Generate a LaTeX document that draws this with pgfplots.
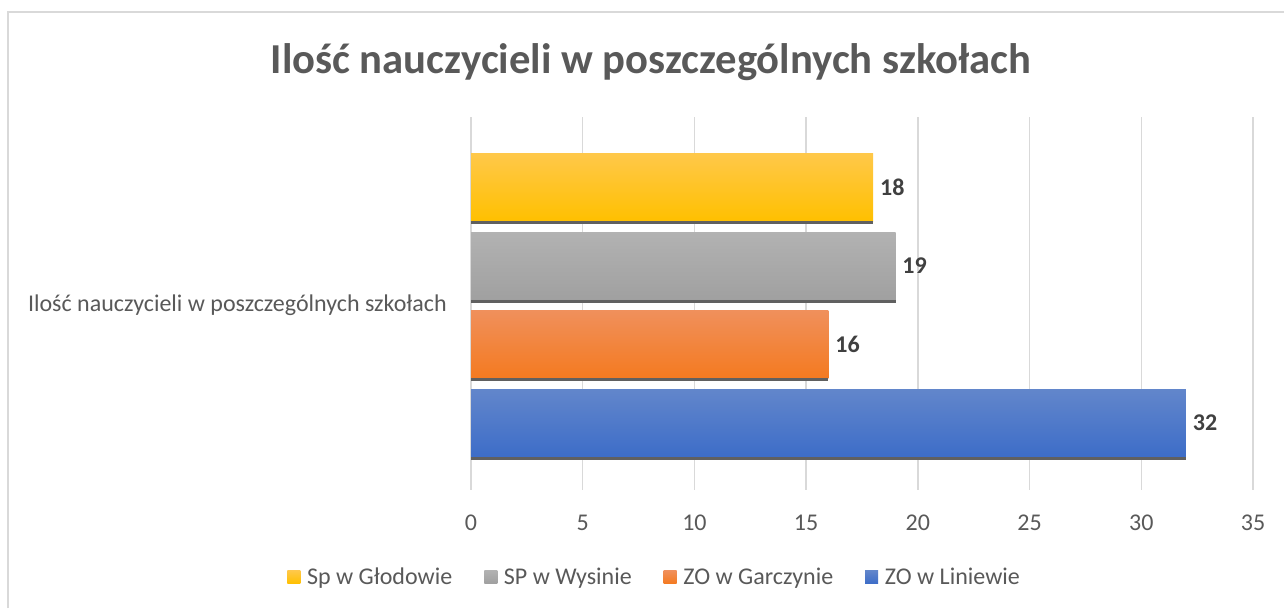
\documentclass[border=0pt]{standalone}
\usepackage{fontspec}
\setmainfont{Carlito}
\usepackage{pgfplots}
\pgfplotsset{compat=1.18}
\definecolor{gridc}{HTML}{D9D9D9}
\definecolor{txt}{HTML}{595959}
\definecolor{lab}{HTML}{404040}
\definecolor{yT}{HTML}{FFC84A}
\definecolor{yB}{HTML}{FFC000}
\definecolor{gT}{HTML}{B2B2B2}
\definecolor{gB}{HTML}{A0A0A0}
\definecolor{oT}{HTML}{F0905C}
\definecolor{oB}{HTML}{F47A20}
\definecolor{bT}{HTML}{6286CB}
\definecolor{bB}{HTML}{3D6DC8}
\definecolor{shadowc}{HTML}{606060}

\begin{document}
\begin{tikzpicture}[x=0.75pt,y=0.75pt]
\useasboundingbox (0,0) rectangle (1284,608);
\draw[gridc, line width=1.5pt] (8,0) -- (8,596) -- (1284,596);
\node[font=\bfseries\fontsize{32}{38}\selectfont, text=txt] at (651,546) {Ilość nauczycieli w poszczególnych szkołach};
\begin{axis}[
  at={(353.25pt,88.5pt)}, anchor=south west,
  scale only axis, width=586.5pt, height=279.75pt,
  xmin=0, xmax=35, ymin=0, ymax=373, y dir=reverse,
  xtick={0,5,...,35},
  ytick={188}, yticklabels={Ilość nauczycieli w poszczególnych szkołach},
  xmajorgrids, grid style={gridc, line width=1.1pt},
  axis line style={draw=none}, tick style={draw=none},
  /pgf/number format/assume math mode=true,
  xticklabel style={font=\fontsize{18}{22}\selectfont, text=txt, anchor=center, yshift=-24.75pt},
  yticklabel style={font=\fontsize{18}{22}\selectfont, text=txt, anchor=east, inner sep=0pt, xshift=-18pt},
  legend columns=4,
  legend style={draw=none, at={(0.2353,-0.2332)}, anchor=center,
    font=\fontsize{18}{22}\selectfont, text=txt,
    /tikz/every odd column/.append style={column sep=3pt},
    /tikz/every even column/.append style={column sep=22pt}},
  legend image code/.code={\path[#1, draw=none] (0pt,-4.9pt) rectangle (9.75pt,4.9pt);},
  every node near coord/.append style={font=\bfseries\fontsize{18}{22}\selectfont, text=lab, anchor=west, inner sep=0pt, xshift=5pt},
]
\addplot[xbar, bar width=68, bar shift=0pt, draw=none, top color=yT, bottom color=yB, nodes near coords] coordinates {(18,70)};
\addlegendentry{Sp w Głodowie}
\addplot[xbar, bar width=68, bar shift=0pt, draw=none, top color=gT, bottom color=gB, nodes near coords] coordinates {(19,149)};
\addlegendentry{SP w Wysinie}
\addplot[xbar, bar width=68, bar shift=0pt, draw=none, top color=oT, bottom color=oB, nodes near coords] coordinates {(16,227)};
\addlegendentry{ZO w Garczynie}
\addplot[xbar, bar width=68, bar shift=0pt, draw=none, top color=bT, bottom color=bB, nodes near coords] coordinates {(32,306)};
\addlegendentry{ZO w Liniewie}
\addplot[xbar, bar width=3, bar shift=0pt, draw=none, fill=shadowc, forget plot] coordinates {(18,105.5)};
\addplot[xbar, bar width=3, bar shift=0pt, draw=none, fill=shadowc, forget plot] coordinates {(19,184.5)};
\addplot[xbar, bar width=3, bar shift=0pt, draw=none, fill=shadowc, forget plot] coordinates {(16,262.5)};
\addplot[xbar, bar width=3, bar shift=0pt, draw=none, fill=shadowc, forget plot] coordinates {(32,341.5)};
\end{axis}
\end{tikzpicture}
\end{document}
